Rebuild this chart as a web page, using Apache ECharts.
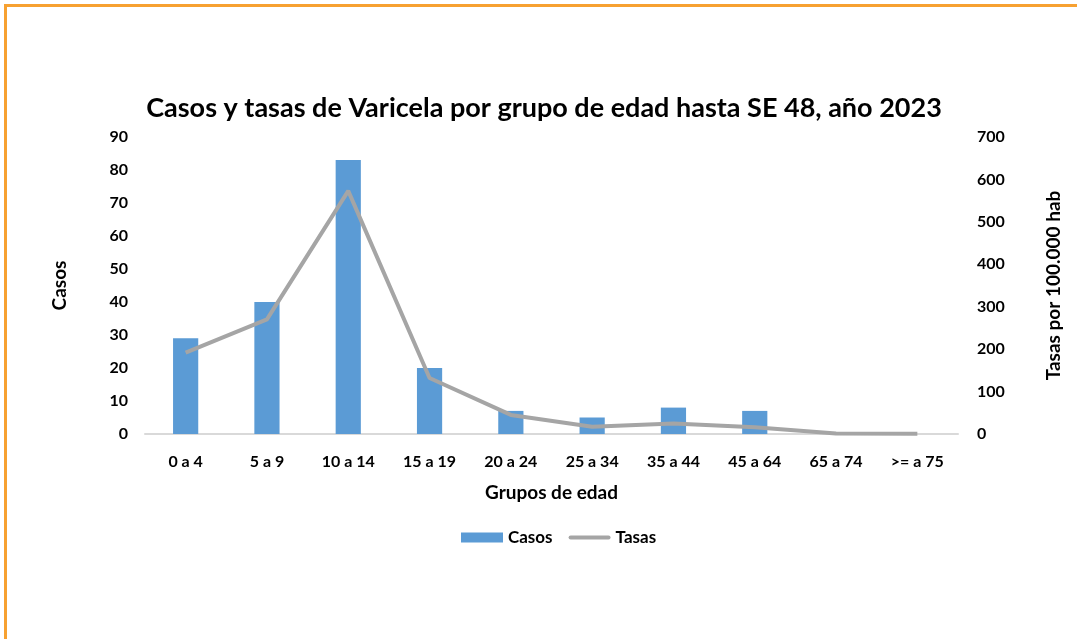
<!DOCTYPE html>
<html>
<head>
<meta charset="utf-8">
<script src="https://cdn.jsdelivr.net/npm/echarts@6/dist/echarts.min.js"></script>
<style>
  html, body { margin: 0; padding: 0; background: #fff; }
  #frame {
    position: absolute; left: 4px; top: 4px; width: 1080px; height: 640px;
    border-left: 3px solid #F7A131; border-top: 3px solid #F7A131;
    box-sizing: border-box;
  }
  #chart { position: absolute; left: 0; top: 0; width: 1077px; height: 639px; }
</style>
</head>
<body>
<div id="frame"></div>
<div id="chart"></div>
<script>
// Grupos de edad y valores por grupo
const categories = ['0 a 4', '5 a 9', '10 a 14', '15 a 19', '20 a 24', '25 a 34', '35 a 44', '45 a 64', '65 a 74', '>= a 75'];
const casos = [29, 40, 83, 20, 7, 5, 8, 7, 0, 0];
const tasas = [192, 270, 573, 132, 45, 17, 25, 16, 1, 0.5];
const casosTicks = { min: 0, max: 90, interval: 10 };
const tasasTicks = { min: 0, max: 700, interval: 100 };

const FONT = 'Lato, "Open Sans", sans-serif';
const chart = echarts.init(document.getElementById('chart'), null, { renderer: 'canvas' });

chart.setOption({
  animation: false,
  backgroundColor: 'transparent',
  title: {
    text: 'Casos y tasas de Varicela por grupo de edad hasta SE 48, año 2023',
    left: 539, top: 90, textAlign: 'center',
    textStyle: { fontFamily: FONT, fontWeight: 'bold', fontSize: 27, color: '#000' }
  },
  legend: {
    bottom: 88, left: 456, itemGap: 16, itemWidth: 42, itemHeight: 10,
    textStyle: { fontFamily: FONT, fontWeight: 'bold', fontSize: 17, color: '#000' },
    data: [
      { name: 'Casos', icon: 'rect' },
      { name: 'Tasas', icon: 'path://M2,0 L38,0 A2,2 0 0 1 38,4 L2,4 A2,2 0 0 1 2,0 Z', itemStyle: { color: '#A5A5A5' } }
    ]
  },
  grid: { left: 145, right: 119, top: 137, bottom: 205 },
  xAxis: {
    type: 'category', data: categories,
    name: 'Grupos de edad', nameLocation: 'middle', nameGap: 49,
    nameTextStyle: { fontFamily: FONT, fontWeight: 'bold', fontSize: 19, color: '#000' },
    axisLine: { lineStyle: { color: '#D9D9D9', width: 2 } },
    axisTick: { show: false },
    axisLabel: { fontFamily: FONT, fontWeight: 'bold', fontSize: 16, color: '#000', margin: 20, interval: 0 }
  },
  yAxis: [
    {
      type: 'value', ...casosTicks,
      name: 'Casos', nameLocation: 'middle', nameGap: 76, nameRotate: 90,
      nameTextStyle: { fontFamily: FONT, fontWeight: 'bold', fontSize: 19, color: '#000' },
      splitLine: { show: false }, axisLine: { show: false }, axisTick: { show: false },
      axisLabel: { fontFamily: FONT, fontWeight: 'bold', fontSize: 16, color: '#000', margin: 17 }
    },
    {
      type: 'value', ...tasasTicks,
      name: 'Tasas por 100.000 hab', nameLocation: 'middle', nameGap: 86, nameRotate: 90,
      nameTextStyle: { fontFamily: FONT, fontWeight: 'bold', fontSize: 19, color: '#000' },
      splitLine: { show: false }, axisLine: { show: false }, axisTick: { show: false },
      axisLabel: { fontFamily: FONT, fontWeight: 'bold', fontSize: 16, color: '#000', margin: 19 }
    }
  ],
  series: [
    {
      name: 'Casos', type: 'bar', data: casos, yAxisIndex: 0,
      barWidth: '31%', itemStyle: { color: '#5B9BD5' }
    },
    {
      name: 'Tasas', type: 'line', data: tasas, yAxisIndex: 1,
      symbol: 'none', lineStyle: { color: '#A5A5A5', width: 4 },
      itemStyle: { color: '#A5A5A5' }
    }
  ]
});
</script>
</body>
</html>
